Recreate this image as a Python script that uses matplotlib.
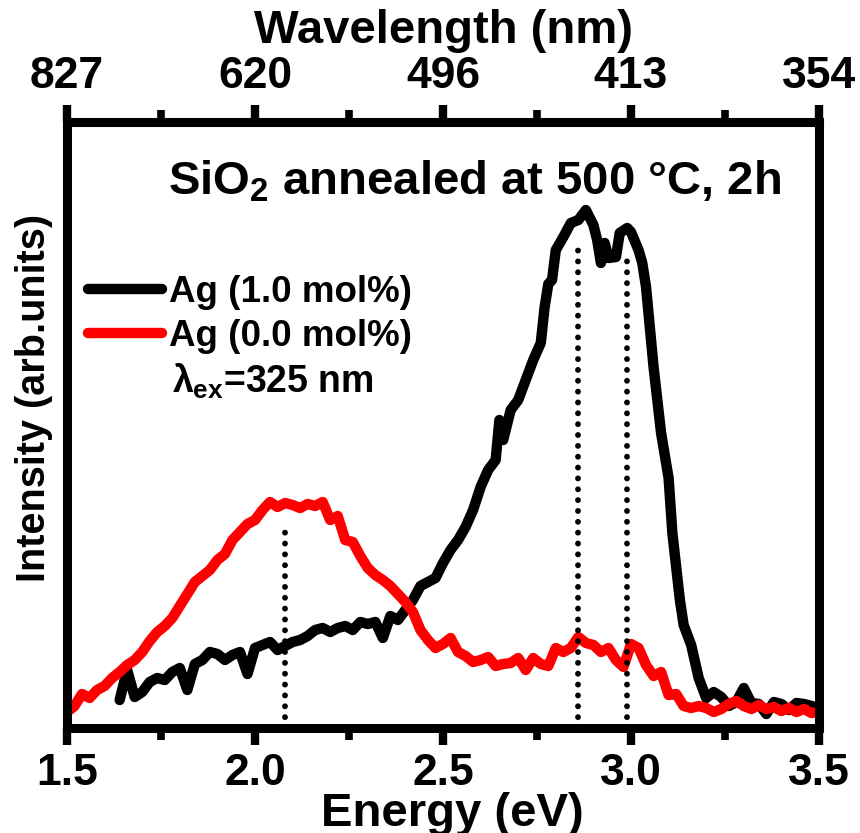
import matplotlib
matplotlib.use("Agg")
import matplotlib.pyplot as plt

plt.rcParams['font.family'] = ['Liberation Sans', 'DejaVu Sans']
plt.rcParams['font.weight'] = 'bold'
plt.rcParams['mathtext.fontset'] = 'custom'
plt.rcParams['mathtext.rm'] = 'Liberation Sans:bold'
plt.rcParams['mathtext.it'] = 'Liberation Sans:bold'
plt.rcParams['mathtext.bf'] = 'Liberation Sans:bold'
plt.rcParams['mathtext.sf'] = 'Liberation Sans:bold'

# PL spectrum, Ag 1.0 mol%
energy_ag10 = [1.64, 1.66, 1.68, 1.70, 1.72, 1.74, 1.76, 1.78, 1.80, 1.82,
               1.84, 1.86, 1.88, 1.90, 1.92, 1.94, 1.96, 1.98, 2.00, 2.02,
               2.04, 2.06, 2.08, 2.10, 2.12, 2.14, 2.16, 2.18, 2.20, 2.22,
               2.24, 2.26, 2.28, 2.30, 2.32, 2.34, 2.36, 2.38, 2.40, 2.42,
               2.44, 2.46, 2.48, 2.50, 2.52, 2.54, 2.56, 2.58, 2.60, 2.62,
               2.64, 2.65, 2.66, 2.68, 2.70, 2.72, 2.74, 2.76, 2.77, 2.78,
               2.79, 2.80, 2.82, 2.84, 2.86, 2.88, 2.90, 2.91, 2.92, 2.93,
               2.94, 2.96, 2.97, 2.99, 3.00, 3.02, 3.03, 3.04, 3.05, 3.06,
               3.08, 3.10, 3.11, 3.13, 3.14, 3.16, 3.18, 3.20, 3.22, 3.24,
               3.26, 3.28, 3.30, 3.32, 3.34, 3.36, 3.38, 3.40, 3.42, 3.44,
               3.46, 3.48, 3.50]
intensity_ag10 = [28, 58, 31, 36, 46, 50, 48, 56, 60, 38,
                  64, 68, 76, 74, 68, 73, 76, 54, 80, 83,
                  86, 78, 82, 86, 88, 92, 98, 100, 96, 100,
                  102, 98, 106, 104, 106, 90, 112, 108, 118, 128,
                  142, 146, 150, 165, 178, 188, 201, 218, 241, 258,
                  268, 308, 288, 318, 328, 348, 368, 385, 420, 444,
                  448, 478, 491, 505, 508, 518, 503, 488, 465, 485,
                  470, 471, 495, 500, 496, 478, 465, 441, 401, 361,
                  295, 250, 195, 128, 103, 83, 50, 30, 36, 31,
                  22, 26, 40, 25, 24, 14, 26, 24, 18, 25,
                  24, 22, 19]

# PL spectrum, Ag 0.0 mol%
energy_ag00 = [1.50, 1.52, 1.54, 1.56, 1.58, 1.60, 1.62, 1.64, 1.66, 1.68,
               1.70, 1.72, 1.74, 1.76, 1.78, 1.80, 1.82, 1.84, 1.86, 1.88,
               1.90, 1.92, 1.94, 1.96, 1.98, 2.00, 2.02, 2.04, 2.06, 2.08,
               2.10, 2.12, 2.14, 2.16, 2.18, 2.20, 2.22, 2.24, 2.26, 2.28,
               2.30, 2.32, 2.34, 2.36, 2.38, 2.40, 2.42, 2.44, 2.46, 2.48,
               2.50, 2.52, 2.54, 2.56, 2.58, 2.60, 2.62, 2.64, 2.66, 2.68,
               2.70, 2.72, 2.74, 2.76, 2.78, 2.80, 2.82, 2.84, 2.86, 2.88,
               2.90, 2.92, 2.94, 2.96, 2.98, 3.00, 3.02, 3.04, 3.06, 3.08,
               3.10, 3.12, 3.14, 3.16, 3.18, 3.20, 3.22, 3.24, 3.26, 3.28,
               3.30, 3.32, 3.34, 3.36, 3.38, 3.40, 3.42, 3.44, 3.46, 3.48,
               3.50]
intensity_ag00 = [16, 22, 34, 30, 38, 42, 50, 56, 63, 68,
                  76, 87, 96, 102, 110, 122, 134, 146, 152, 158,
                  168, 174, 188, 196, 204, 208, 218, 226, 221, 225,
                  223, 220, 224, 222, 226, 208, 212, 188, 186, 172,
                  160, 153, 148, 142, 134, 126, 116, 98, 88, 80,
                  84, 90, 76, 72, 66, 68, 71, 62, 64, 65,
                  70, 58, 70, 64, 62, 80, 76, 80, 91, 85,
                  83, 76, 80, 68, 61, 84, 80, 63, 52, 56,
                  33, 34, 22, 20, 22, 20, 16, 19, 24, 27,
                  22, 19, 23, 19, 21, 17, 20, 16, 19, 15,
                  16]

# Peak markers: position and height of each dotted guide
peak_energy = [2.08, 2.86, 2.99]
peak_height = [203, 485, 473]

energy_ticks = [1.5, 2.0, 2.5, 3.0, 3.5]
energy_minor = [1.75, 2.25, 2.75, 3.25]
energy_labels = ['1.5', '2.0', '2.5', '3.0', '3.5']
wavelength_labels = ['827', '620', '496', '413', '354']

fig = plt.figure(figsize=(8.6, 8.33), dpi=100)
ax = fig.add_axes([67 / 860, 1 - 728 / 833, 752 / 860, 606 / 833])

ax.plot(energy_ag10, intensity_ag10, color='black', lw=7.5,
        solid_joinstyle='round', solid_capstyle='round', label='Ag (1.0 mol%)')
ax.plot(energy_ag00, intensity_ag00, color='#ff0000', lw=7.5,
        solid_joinstyle='round', solid_capstyle='round', label='Ag (0.0 mol%)')

for e, h in zip(peak_energy, peak_height):
    ax.plot([e, e], [0, h], color='black', lw=4.2,
            linestyle=(0, (0.01, 1.85)), dash_capstyle='round')

ax.set_xlim(1.5, 3.5)
ax.set_ylim(0, 606)

for s in ax.spines.values():
    s.set_linewidth(6.5)

ax.set_xticks(energy_ticks, labels=energy_labels)
ax.set_xticks(energy_minor, minor=True)
ax.set_yticks([])
ax.tick_params(axis='x', which='major', direction='out', length=12, width=6,
               labelsize=32, pad=6)
ax.tick_params(axis='x', which='minor', direction='out', length=8.5, width=5.5)

sec = ax.secondary_xaxis('top')
sec.set_xticks(energy_ticks, labels=wavelength_labels)
sec.set_xticks(energy_minor, minor=True)
sec.tick_params(axis='x', which='major', direction='out', length=12, width=6,
                labelsize=32, pad=6)
sec.tick_params(axis='x', which='minor', direction='out', length=8.5, width=5.5)
sec.spines['top'].set_linewidth(6.5)
sec.set_xlabel('Wavelength (nm)', fontsize=34, fontweight='bold', labelpad=9)

ax.set_xlabel('Energy (eV)', fontsize=34, fontweight='bold')
ax.xaxis.set_label_coords(0.512, -0.161)
ax.xaxis.label.set_va('baseline')

ax.set_ylabel('Intensity (arb.units)', fontsize=28.5, fontweight='bold')
ax.yaxis.set_label_coords(-0.044, 0.545)
ax.yaxis.label.set_va('center')

ax.text(0.134, 0.88, r'SiO$_2$ annealed at 500 °C, 2h',
        transform=ax.transAxes, fontsize=34, fontweight='bold',
        va='baseline', ha='left')

ax.legend(loc='upper left', bbox_to_anchor=(0.028, 0.748), frameon=False,
          fontsize=26.5, handlelength=2.0, handletextpad=0.2, labelspacing=0.25,
          borderpad=0, borderaxespad=0)

ax.text(0.14, 0.554, r'$\lambda_{\mathrm{ex}}$=325 nm', transform=ax.transAxes,
        fontsize=27, fontweight='bold', va='baseline', ha='left')

fig.savefig('out.png', dpi=100)
